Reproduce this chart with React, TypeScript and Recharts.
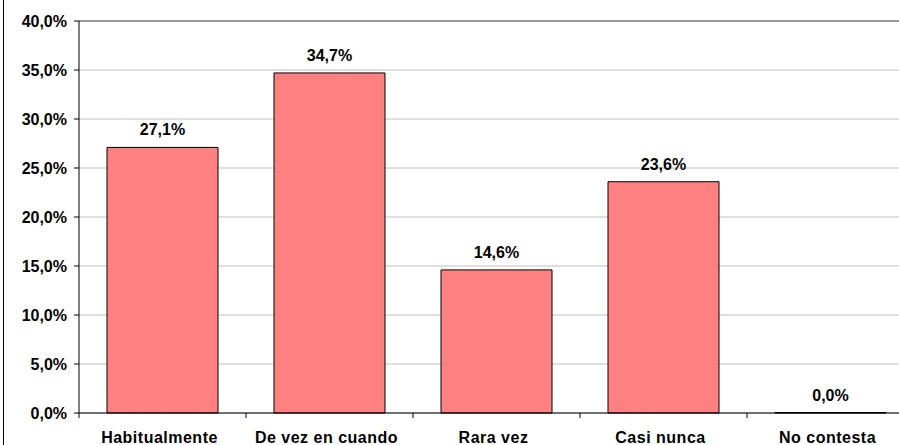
import { Bar, BarChart, CartesianGrid, LabelList, ReferenceLine, XAxis, YAxis } from "recharts";

const categories = ["Habitualmente", "De vez en cuando", "Rara vez", "Casi nunca", "No contesta"];
const percents = [27.1, 34.7, 14.6, 23.6, 0.0];
const yTicks = [0, 5, 10, 15, 20, 25, 30, 35, 40];

const data = categories.map((name, i) => ({ name, value: percents[i] }));

const font = "'Liberation Sans', Arial, sans-serif";
const fmtPct = (v: number) => `${v.toFixed(1).replace(".", ",")}%`;

// category label + a small tick mark on the left edge of each category band
function CategoryTick(props: any) {
  const { x, y, payload } = props;
  const half = payload?.offset ?? 83.5;
  return (
    <g>
      <line x1={x - half} y1={y} x2={x - half} y2={y + 5} stroke="#000" />
      <text
        x={x - 3}
        y={y + 30}
        textAnchor="middle"
        fontFamily={font}
        fontWeight="bold"
        fontSize={16}
        letterSpacing={0.5}
        fill="#000"
      >
        {payload.value}
      </text>
    </g>
  );
}

// value label above each bar
function ValueLabel(props: any) {
  const { x, y, width, value } = props;
  if (value == null) return null;
  return (
    <text
      x={Number(x) + Number(width) / 2}
      y={Number(y) - 12}
      textAnchor="middle"
      fontFamily={font}
      fontWeight="bold"
      fontSize={16}
      fill="#000"
    >
      {fmtPct(Number(value))}
    </text>
  );
}

export default function App() {
  return (
    <div
      style={{
        position: "fixed",
        left: 0,
        top: 0,
        width: 899,
        height: 445,
        overflow: "hidden",
        background: "#fff",
      }}
    >
      <div style={{ position: "absolute", left: 3, top: 0, width: 1, height: 445, background: "#000" }} />
      <BarChart
        width={914}
        height={445}
        data={data}
        margin={{ top: 21, right: 0, left: 0, bottom: 0 }}
        barCategoryGap={28}
      >
        <CartesianGrid horizontal vertical={false} stroke="#c0c0c0" />
        <ReferenceLine y={40} stroke="#808080" strokeWidth={1.5} />
        <Bar
          dataKey="value"
          fill="#ff8080"
          stroke="#000"
          strokeWidth={1}
          minPointSize={0.5}
          isAnimationActive={false}
        >
          <LabelList dataKey="value" content={<ValueLabel />} />
        </Bar>
        <XAxis
          dataKey="name"
          height={32}
          interval={0}
          axisLine={{ stroke: "#000" }}
          tickLine={false}
          tickSize={0}
          tickMargin={0}
          tick={<CategoryTick />}
        />
        <YAxis
          width={79}
          domain={[0, 40]}
          ticks={yTicks}
          tickFormatter={fmtPct}
          axisLine={{ stroke: "#000" }}
          tickLine={{ stroke: "#000" }}
          tickSize={5}
          tickMargin={7}
          tick={{ fill: "#000", fontSize: 16, fontWeight: "bold", fontFamily: font }}
        />
      </BarChart>
    </div>
  );
}
